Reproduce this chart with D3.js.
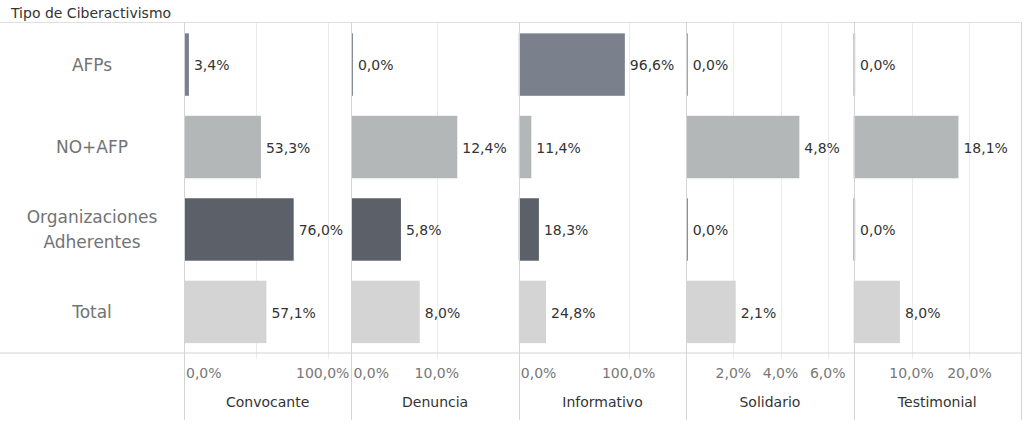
<!DOCTYPE html>
<html>
<head>
<meta charset="utf-8">
<script src="https://cdn.jsdelivr.net/npm/d3@7"></script>
<style>
  body { margin: 0; background: #fff; }
  svg { display: block; font-family: "DejaVu Sans", sans-serif; }
</style>
</head>
<body>
<div id="chart"></div>
<script>
// data
var categories = ["AFPs", "NO+AFP", "Organizaciones Adherentes", "Total"]
var tipos = ["Convocante", "Denuncia", "Informativo", "Solidario", "Testimonial"]
var convocante = [3.4, 53.3, 76.0, 57.1]
var denuncia = [0.0, 12.4, 5.8, 8.0]
var informativo = [96.6, 11.4, 18.3, 24.8]
var solidario = [0.0, 4.8, 0.0, 2.1]
var testimonial = [0.0, 18.1, 0.0, 8.0]
var axisMax = [116, 19.6, 152.5, 7.1, 28.9]
var tickLabels = [[0, 100], [0, 10], [0, 100], [2, 4, 6], [10, 20]]
var gridTicks = [[50, 100], [10], [100], [2, 4, 6], [10, 20]]
var barColors = ["#7a808c", "#b4b7b8", "#5c6068", "#d4d4d4"]

var series = [convocante, denuncia, informativo, solidario, testimonial]

var svgw = 1028, svgh = 434
var plotTop = 22, plotBottom = 352.5, axisBottom = 420
var plotLeft = 184, plotRight = 1021

var locale = d3.formatLocale({decimal: ",", thousands: ".", grouping: [3], currency: ["", ""]})
var fmt = locale.format(".1f")
function pct(v){ return fmt(v) + "%" }

var svg = d3.select("#chart").append("svg")
  .attr("width", svgw)
  .attr("height", svgh)

var x0 = d3.scaleBand().domain(tipos).range([plotLeft, plotRight]).padding(0)
var y = d3.scaleBand().domain(categories).range([plotTop + 1, plotBottom + 1]).paddingInner(0.2424).paddingOuter(0.1255)

// title
svg.append("text")
  .attr("x", 11).attr("y", 13)
  .attr("dy", "0.35em")
  .attr("font-size", 14)
  .attr("fill", "#333")
  .text("Tipo de Ciberactivismo")

// row labels
categories.forEach(function(c){
  var words = c == "Organizaciones Adherentes" ? ["Organizaciones", "Adherentes"] : [c]
  var cy = y(c) + y.bandwidth() / 2
  var t = svg.append("text")
    .attr("text-anchor", "middle")
    .attr("font-size", 17)
    .attr("fill", "#737373")
  words.forEach(function(wd, i){
    t.append("tspan")
      .attr("x", 92)
      .attr("y", cy + (i - (words.length - 1) / 2) * 25.6)
      .attr("dy", "0.35em")
      .text(wd)
  })
})

// panels
tipos.forEach(function(tp, k){
  var px = x0(tp), pw = x0.bandwidth()
  var x = d3.scaleLinear().domain([0, axisMax[k]]).range([px, px + pw])
  var g = svg.append("g")

  // gridlines
  g.selectAll(".grid")
    .data(gridTicks[k])
    .enter().append("line")
    .attr("x1", function(d){ return Math.round(x(d)) + 0.5 })
    .attr("x2", function(d){ return Math.round(x(d)) + 0.5 })
    .attr("y1", plotTop)
    .attr("y2", plotBottom + 6)
    .attr("stroke", "#ebebeb")

  // bars
  g.selectAll(".bar")
    .data(series[k])
    .enter().append("rect")
    .attr("x", px)
    .attr("y", function(d, i){ return y(categories[i]) })
    .attr("width", function(d){ return Math.max(x(d) - px, 1.5) })
    .attr("height", y.bandwidth())
    .attr("fill", function(d, i){ return barColors[i] })

  // value labels
  g.selectAll(".val")
    .data(series[k])
    .enter().append("text")
    .attr("x", function(d){ return px + Math.max(x(d) - px, 1.5) + 5 })
    .attr("y", function(d, i){ return y(categories[i]) + y.bandwidth() / 2 + 1 })
    .attr("dy", "0.35em")
    .attr("font-size", 14)
    .attr("fill", "#333")
    .text(function(d){ return pct(d) })

  // tick labels, kept inside the panel
  g.selectAll(".tick")
    .data(tickLabels[k])
    .enter().append("text")
    .attr("y", 373)
    .attr("dy", "0.35em")
    .attr("font-size", 14)
    .attr("fill", "#777")
    .text(function(d){ return pct(d) })
    .attr("x", function(d){
      var w = this.getComputedTextLength()
      var cx = x(d) - w / 2
      cx = Math.max(px + 2, Math.min(cx, px + pw - 2 - w))
      return cx
    })

  // header under the axis
  g.append("text")
    .attr("x", px + pw / 2)
    .attr("y", 402)
    .attr("dy", "0.35em")
    .attr("text-anchor", "middle")
    .attr("font-size", 14)
    .attr("fill", "#333")
    .text(tp)
})

// frame lines
svg.append("line")
  .attr("x1", 0).attr("x2", plotRight)
  .attr("y1", plotTop + 0.5).attr("y2", plotTop + 0.5)
  .attr("stroke", "#e0e0e0")
svg.append("line")
  .attr("x1", 0).attr("x2", plotRight)
  .attr("y1", plotBottom + 0.5).attr("y2", plotBottom + 0.5)
  .attr("stroke", "#d4d4d4")
svg.selectAll(".divider")
  .data(tipos.concat(["end"]))
  .enter().append("line")
  .attr("x1", function(d){ return Math.round(d == "end" ? plotRight : x0(d)) + 0.5 })
  .attr("x2", function(d){ return Math.round(d == "end" ? plotRight : x0(d)) + 0.5 })
  .attr("y1", plotTop)
  .attr("y2", axisBottom)
  .attr("stroke", "#d4d4d4")
</script>
</body>
</html>
